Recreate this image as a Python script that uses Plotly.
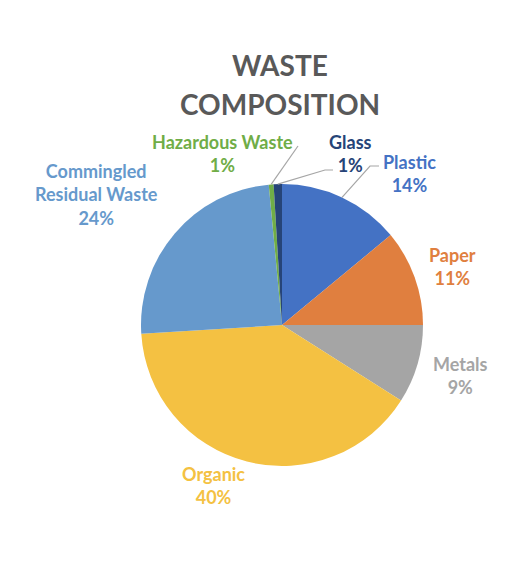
import math
import plotly.graph_objects as go

# ---- data ----
categories = ["Plastic", "Paper", "Metals", "Organic",
              "Commingled Residual Waste", "Hazardous Waste", "Glass"]
values = [14.0, 11.0, 9.0, 40.0, 24.5, 0.55, 0.95]
label_text = ["Plastic", "Paper", "Metals", "Organic",
              "Commingled<br>Residual Waste", "Hazardous Waste", "Glass"]
colors = ["#4472C4", "#E07F3F", "#A5A5A5", "#F4C142",
          "#6699CC", "#70AD47", "#264478"]
title_lines = ["WASTE", "COMPOSITION"]

# ---- layout helpers (pixel positions in the 530x564 page) ----
W, H = 530, 564
OFF = 8  # page body margin
CX, CY, R = 282, 325, 141
LH = 23.5  # label line height
# first-line centre of each label
label_pos = [(409, 162), (452, 255), (460, 364), (213, 474),
             (96, 171), (222, 142), (350, 142)]
# leader lines: (elbow, end) pixel points, None for no line
leaders = [((370, 166), (379, 166)), None, None, None, None,
           ((298, 146), (298, 146)), ((325, 170), (333, 170))]
title_pos = [(280, 65), (280, 104)]

FONT = "Lato"


def px(x):
    return (x - OFF) / W


def py(y):
    return 1 - (y - OFF) / H


fig = go.Figure(go.Pie(
    labels=categories,
    values=values,
    sort=False,
    direction="clockwise",
    rotation=0,
    marker=dict(colors=colors, line=dict(width=0)),
    textinfo="none",
    hoverinfo="label+percent",
    showlegend=False,
    domain=dict(x=[px(CX - R), px(CX + R)],
                y=[py(CY + R), py(CY - R)]),
))

total = sum(values)
annotations = []
shapes = []
cum = 0.0
for i, v in enumerate(values):
    pct = max(round(100 * v / total), 1)
    x, y = label_pos[i]
    n_lines = label_text[i].count("<br>") + 2
    annotations.append(dict(
        x=px(x), y=py(y + (n_lines - 1) * LH / 2),
        xref="paper", yref="paper",
        text=f"<b>{label_text[i]}<br>{pct}%</b>",
        showarrow=False, xanchor="center", yanchor="middle",
        font=dict(family=FONT, size=18, color=colors[i]),
    ))
    mid = (cum + v / 2) / total * 2 * math.pi
    cum += v
    if leaders[i]:
        sx = CX + R * math.sin(mid)
        sy = CY - R * math.cos(mid)
        (ex, ey), (fx, fy) = leaders[i]
        path = (f"M {px(sx)},{py(sy)} L {px(ex)},{py(ey)} "
                f"L {px(fx)},{py(fy)}")
        shapes.append(dict(type="path", xref="paper", yref="paper",
                           path=path, line=dict(color="#A6A6A6", width=1.2)))

for t, (x, y) in zip(title_lines, title_pos):
    annotations.append(dict(
        x=px(x), y=py(y), xref="paper", yref="paper",
        text=f"<b>{t}</b>", showarrow=False,
        xanchor="center", yanchor="middle",
        font=dict(family=FONT, size=28, color="#595959"),
    ))

fig.update_layout(
    width=W, height=H,
    margin=dict(l=0, r=0, t=0, b=0),
    paper_bgcolor="white", plot_bgcolor="white",
    annotations=annotations, shapes=shapes,
)

fig.write_html("out.html")
